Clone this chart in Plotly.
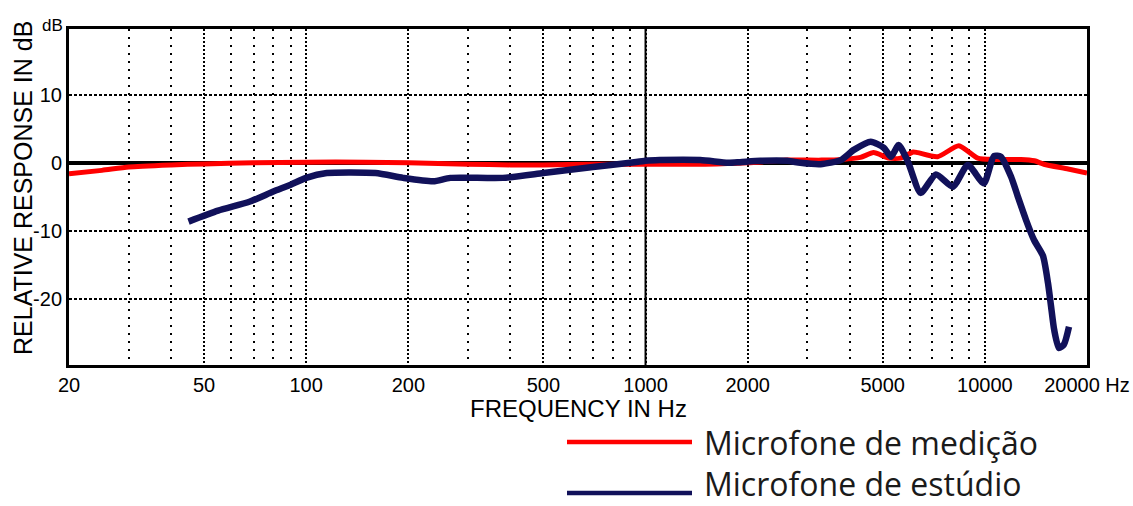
import plotly.graph_objects as go

# ---- data ----
freq_medicao = [20, 25, 30, 40, 50, 70, 100, 150, 200, 300, 400, 500, 700, 1000, 1500, 2000,
                2600, 3300, 3800, 4300, 4700, 5200, 5650, 6150, 6340, 7260, 8380, 9530, 10640,
                12770, 14000, 14930, 17600, 20000]
db_medicao = [-1.6, -1.1, -0.6, -0.3, -0.15, 0.0, 0.1, 0.1, 0.0, -0.2, -0.3, -0.3, -0.2, -0.2, -0.2, 0.0,
              0.4, 0.4, 0.5, 0.8, 1.5, 0.7, 0.7, 1.6, 1.5, 0.9, 2.5, 0.7, 0.5,
              0.5, 0.3, -0.2, -0.9, -1.5]

freq_estudio = [45, 55, 68, 80, 90, 100, 115, 160, 193, 237, 266, 380, 500, 700, 900, 1000, 1100,
                1450, 1750, 1900, 2180, 2620, 2860, 3280, 3760, 4110, 4610, 5040, 5290, 5570,
                5930, 6470, 7180, 8050, 8910, 9930, 10640, 11140, 11940, 12500, 13210, 13960,
                14830, 15350, 15670, 16000, 16520, 17100, 17700]
db_estudio = [-8.6, -7.0, -5.7, -4.2, -3.2, -2.2, -1.5, -1.5, -2.2, -2.7, -2.2, -2.2, -1.5, -0.6, 0.0, 0.3, 0.4,
              0.4, 0.0, 0.1, 0.3, 0.3, 0.0, -0.2, 0.4, 1.9, 3.1, 2.2, 0.9, 2.6,
              0.2, -4.4, -1.7, -3.5, -0.3, -3.0, 1.0, 0.9, -2.0, -4.9, -8.3, -11.3,
              -13.6, -17.6, -21.0, -24.4, -27.1, -26.6, -24.0]

x_major_ticks = [20, 50, 100, 200, 500, 1000, 2000, 5000, 10000, 20000]
x_major_labels = ["20", "50", "100", "200", "500", "1000", "2000", "5000", "10000", "20000 Hz"]
x_minor_ticks = [30, 40, 60, 70, 80, 90, 300, 400, 600, 700, 800, 900,
                 3000, 4000, 6000, 7000, 8000, 9000]
y_ticks = [10, 0, -10, -20]
y_labels = ["10", "0", "-10", "-20"]
y_unit_label = "dB"
ref_line_freq = [1000, 1000]
ref_line_db = [-29.6, 19.6]

series_names = ["Microfone de medição", "Microfone de estúdio"]
RED = "#ff0000"
NAVY = "#11115a"
SANS = "Liberation Sans, Arial, sans-serif"

fig = go.Figure()
fig.add_trace(go.Scatter(x=ref_line_freq, y=ref_line_db, mode="lines",
                         line=dict(color="black", width=2), showlegend=False, hoverinfo="skip"))
fig.add_trace(go.Scatter(x=freq_medicao, y=db_medicao, mode="lines", name=series_names[0],
                         line=dict(color=RED, width=5, shape="spline", smoothing=0.6), showlegend=False))
fig.add_trace(go.Scatter(x=freq_estudio, y=db_estudio, mode="lines", name=series_names[1],
                         line=dict(color=NAVY, width=6.5, shape="spline", smoothing=0.6), showlegend=False))

tick_font = dict(family=SANS, size=20, color="black")

fig.update_xaxes(type="log", range=[1.30103, 4.30103], automargin=False,
                 tickmode="array", tickvals=x_major_ticks, ticktext=x_major_labels,
                 showgrid=True, gridcolor="black", gridwidth=1.5, griddash="2px,2px",
                 minor=dict(tickmode="array", tickvals=x_minor_ticks, showgrid=True,
                            gridcolor="black", gridwidth=1.5, griddash="2px,6px", ticks=""),
                 showline=True, linecolor="black", linewidth=3, mirror=True,
                 ticks="", tickfont=tick_font, zeroline=False)
fig.update_yaxes(range=[-29.6, 19.6], automargin=False, tickmode="array", tickvals=y_ticks,
                 ticktext=y_labels,
                 showgrid=True, gridcolor="black", gridwidth=1.5, griddash="3px,2px",
                 zeroline=True, zerolinecolor="black", zerolinewidth=3.5,
                 showline=True, linecolor="black", linewidth=3, mirror=True,
                 ticks="", tickfont=tick_font)

# unit label at top of y axis
fig.add_annotation(text=y_unit_label, xref="paper", yref="paper", x=0, xshift=-4, y=1, yshift=4,
                   xanchor="right", yanchor="middle", showarrow=False,
                   font=dict(family=SANS, size=17, color="black"))

# axis titles
fig.add_annotation(text="FREQUENCY IN Hz", xref="paper", yref="paper", x=0.5, y=(365 - 408) / 336,
                   showarrow=False, xanchor="center", yanchor="middle",
                   font=dict(family=SANS, size=24, color="black"))
fig.add_annotation(text="RELATIVE RESPONSE IN dB", xref="paper", yref="paper", x=0, xshift=-46,
                   y=(365 - 188) / 336, textangle=-90, showarrow=False,
                   xanchor="center", yanchor="middle",
                   font=dict(family=SANS, size=25, color="black"))

# manual legend below the plot
legend_rows = [(series_names[0], RED, 442, 442), (series_names[1], NAVY, 493, 483)]
for name, col, py_line, py_text in legend_rows:
    yl = (365 - py_line) / 336
    yt = (365 - py_text) / 336
    fig.add_shape(type="line", xref="paper", yref="paper",
                  x0=(567 - 69) / 1018, x1=(692 - 69) / 1018, y0=yl, y1=yl,
                  line=dict(color=col, width=4.5))
    fig.add_annotation(text=name, xref="paper", yref="paper", x=(703 - 69) / 1018, y=yt,
                       xanchor="left", yanchor="middle", showarrow=False, borderpad=0,
                       font=dict(family="Open Sans, Noto Sans, sans-serif", size=32, color="#1a1a1a"))

fig.update_layout(width=1133, height=506, autosize=False,
                  margin=dict(l=69, r=46, t=29, b=141, autoexpand=False),
                  plot_bgcolor="white", paper_bgcolor="white", showlegend=False)

fig.write_html("out.html")
